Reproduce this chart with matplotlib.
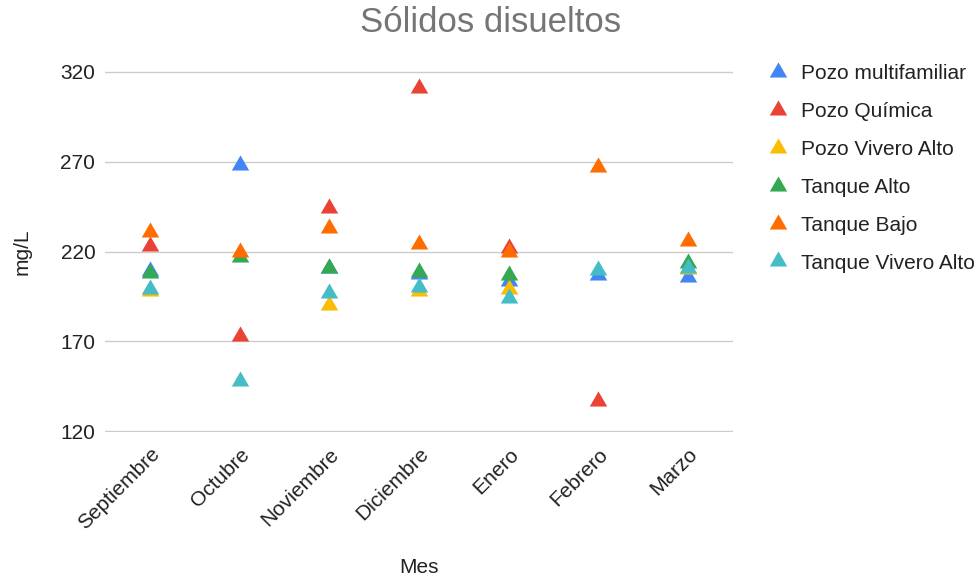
import matplotlib.pyplot as plt
from matplotlib.lines import Line2D

plt.rcParams['font.family'] = ['Liberation Sans', 'DejaVu Sans']

meses = ["Septiembre", "Octubre", "Noviembre", "Diciembre", "Enero", "Febrero", "Marzo"]

# mg/L por mes; None = sin medicion
pozo_multifamiliar = [209, 268, 211, 207.5, 203.5, 207, 206]
pozo_quimica = [223, 173, 244, 311, 222, 137, None]
pozo_vivero_alto = [198, None, 190, 198, 199, None, 210]
tanque_alto = [208, 217, 211, 208.5, 207, None, 213.5]
tanque_bajo = [231, 220, 233, 224, 220, 267, 226]
tanque_vivero_alto = [199, 148, 197, 200, 194, 209.5, 211]

series = [
    ("Pozo multifamiliar", pozo_multifamiliar, "#4285F4"),
    ("Pozo Química", pozo_quimica, "#EA4335"),
    ("Pozo Vivero Alto", pozo_vivero_alto, "#FBBC04"),
    ("Tanque Alto", tanque_alto, "#34A853"),
    ("Tanque Bajo", tanque_bajo, "#FF6D01"),
    ("Tanque Vivero Alto", tanque_vivero_alto, "#46BDC6"),
]

yticks = [120, 170, 220, 270, 320]

# equilateral triangle centred on the point
tri = [(-0.5, -0.289), (0.5, -0.289), (0.0, 0.577)]

fig = plt.figure(figsize=(9.78, 5.8), dpi=100)
ax = fig.add_axes([105 / 978, 1 - 432 / 580, 628 / 978, 361 / 580])

handles = []
for name, vals, color in series:
    xs = [i for i, v in enumerate(vals) if v is not None]
    ys = [v for v in vals if v is not None]
    ax.plot(xs, ys, linestyle="none", marker=tri, markersize=14.5,
            color=color, markeredgewidth=0, clip_on=False, zorder=3)
    handles.append(Line2D([], [], linestyle="none", marker=tri, markersize=14.5,
                          color=color, markeredgewidth=0, label=name))

ax.set_xlim(-0.5, len(meses) - 0.5)
ax.set_ylim(119.5, 320.5)
ax.set_yticks(yticks)
ax.set_xticks(range(len(meses)))
ax.set_xticklabels(meses, rotation=45, ha="right", rotation_mode="anchor")
ax.tick_params(axis="x", length=0, pad=9, labelsize=15, labelcolor="#222222")
ax.tick_params(axis="y", length=0, pad=7, labelsize=15, labelcolor="#222222")
ax.grid(axis="y", color="#cccccc", linewidth=1)
ax.set_axisbelow(True)
for s in ax.spines.values():
    s.set_visible(False)

ax.set_ylabel("mg/L", fontsize=15, color="#222222", labelpad=21)
ax.set_xlabel("Mes", fontsize=15, color="#222222", labelpad=18)

fig.text(491 / 978, 1 - 23 / 580, "Sólidos disueltos", ha="center", va="center",
         fontsize=25, color="#757575")

ax.legend(handles=handles, loc="upper left", bbox_to_anchor=(765 / 978, 1 - 64 / 580),
          bbox_transform=fig.transFigure, frameon=False, fontsize=15,
          labelspacing=0.91, handletextpad=0.55, handlelength=1.2, borderaxespad=0,
          borderpad=0, labelcolor="#222222")

fig.savefig("out.png", dpi=100)
